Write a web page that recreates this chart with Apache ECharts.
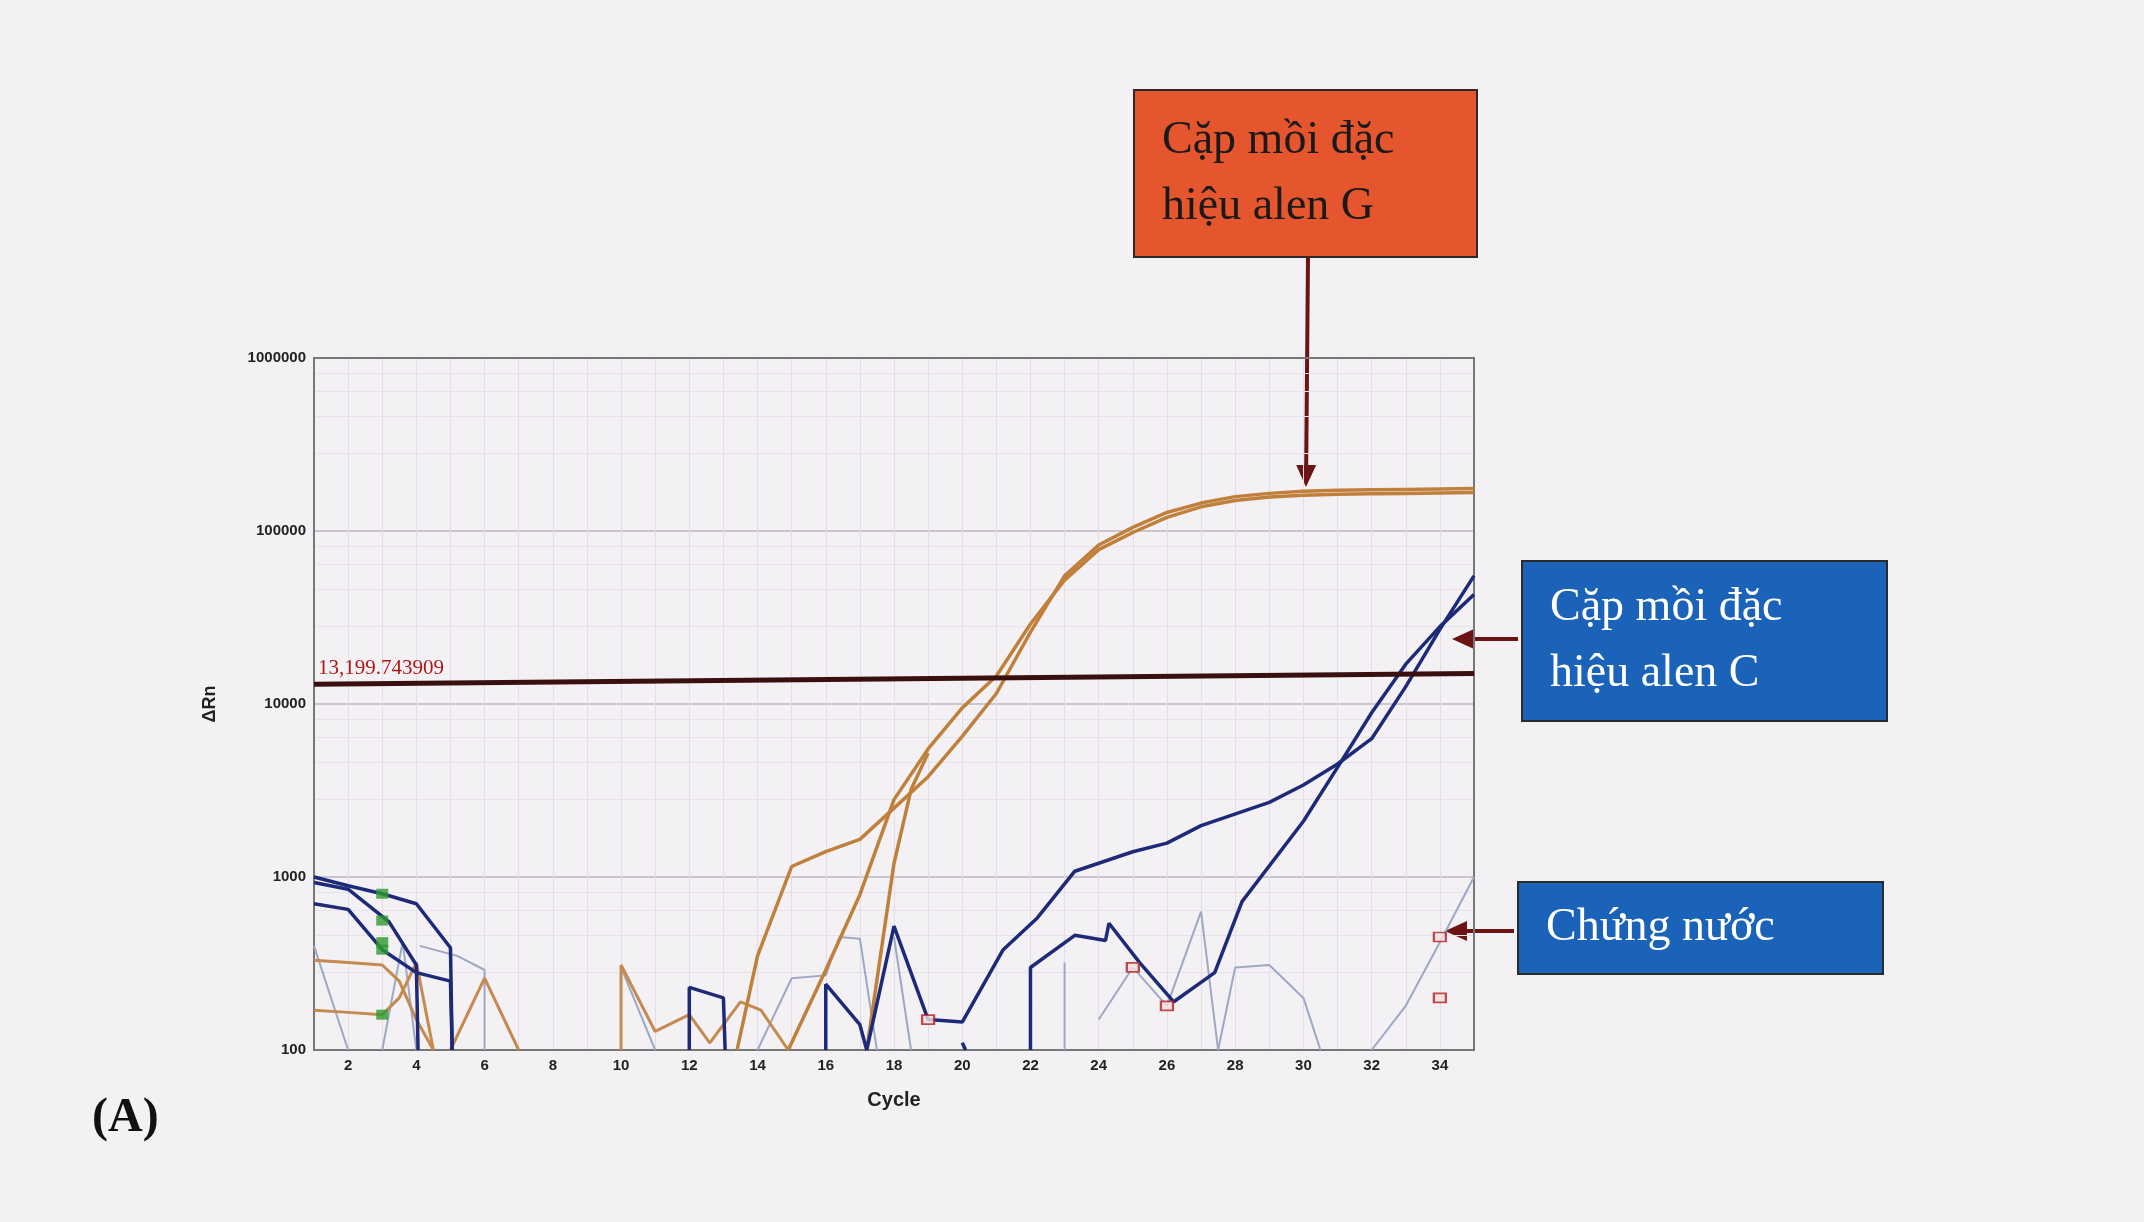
<!DOCTYPE html>
<html>
<head>
<meta charset="UTF-8">
<script src="https://cdn.jsdelivr.net/npm/echarts@6/dist/echarts.min.js"></script>
<style>
  body { margin: 0; background: #f3f1f4; }
  #chart { width: 2144px; height: 1222px; }
</style>
</head>
<body>
<div id="chart"></div>
<script>
// ---------- data ----------
const xTicks = [2, 4, 6, 8, 10, 12, 14, 16, 18, 20, 22, 24, 26, 28, 30, 32, 34];
const yTicks = [100, 1000, 10000, 100000, 1000000];
const thresholdLabel = '13,199.743909';
const threshold = [[1, 13000], [35, 15000]];

// allele G (orange)
const orangeA = [[13.4, 100], [14, 350], [15, 1150], [16, 1400], [17, 1650], [18, 2500], [19, 3800], [20, 6500],
  [21, 11500], [22, 26000], [23, 55000], [24, 83000], [25, 105000], [26, 128000], [27, 145000], [28, 158000],
  [29, 165000], [30, 170000], [31, 172000], [32, 173000], [33, 174000], [34, 175000], [35, 176000]];
const orangeB = [[14.9, 100], [16, 290], [17, 790], [18, 2800], [19, 5500], [20, 9500], [21, 14500], [22, 29000],
  [23, 52000], [24, 78000], [25, 98000], [26, 120000], [27, 138000], [28, 150000], [29, 157000], [30, 161000],
  [31, 163000], [32, 164000], [33, 165000], [34, 166000], [35, 167000]];
const orangeC = [[17.2, 100], [18, 1200], [18.5, 3200], [19, 5200]];
const orangeNoise1 = [[1, 330], [2, 320], [3, 310], [3.5, 250], [4, 150], [4.5, 100]];
const orangeNoise2 = [[1, 170], [2, 165], [3, 160], [3.5, 200], [4, 320], [4.5, 100]];
const orangeNoise3 = [[5, 100], [6, 260], [7, 100]];
const orangeNoise4 = [[10, 100], [10, 310], [11, 128], [12, 160], [12.6, 110], [13.5, 190], [14.1, 170], [14.9, 100]];

// allele C (navy)
const blueA = [[1, 1000], [2, 890], [3, 800], [4, 700], [5, 390], [5.05, 100]];
const blueB = [[1, 930], [2, 850], [3.2, 550], [4, 310], [4.05, 100]];
const blueC = [[1, 700], [2, 650], [3, 380], [4, 280], [5, 250], [5.05, 100]];
const blueD = [[12, 100], [12, 230], [13, 200], [13.05, 100]];
const blueE = [[16, 100], [16, 240], [17, 140], [17.2, 100], [18, 520], [19, 150], [20, 145], [21.2, 380],
  [22.2, 580], [23.3, 1080], [25, 1400], [26, 1570], [27, 1980], [29, 2700], [30, 3400], [31, 4500],
  [32, 6300], [33, 12600], [34, 27000], [35, 55000]];
const blueF = [[22, 100], [22, 300], [23.3, 460], [24.2, 430], [24.3, 540], [25.2, 320], [26.2, 190],
  [27.4, 280], [28.2, 720], [30, 2100], [31, 4300], [32, 8900], [33, 17000], [34, 28000], [35, 43000]];
const blueG = [[20, 110], [20.1, 100]];

// water controls (grey)
const greyLines = [
  [[1, 400], [2, 100]],
  [[3, 100], [3.6, 420], [4, 100]],
  [[4.1, 400], [5.2, 350], [6, 290], [6, 100]],
  [[10, 300], [11, 100]],
  [[14, 100], [15, 260], [16, 270], [16.4, 450], [17, 440], [17.5, 100]],
  [[18, 450], [18.5, 100]],
  [[23, 100], [23, 320], [23, 100]],
  [[24, 150], [25, 300], [26, 180], [27, 630], [27.5, 100]],
  [[27.5, 100], [28, 300], [29, 310], [30, 200], [30.5, 100]],
  [[32, 100], [33, 180], [34, 420], [35, 1000]]
];

const greenMarks = [[3, 800], [3, 560], [3, 420], [3, 380], [3, 160]];
const redMarks = [[19, 150], [25, 300], [26, 180], [34, 450], [34, 200]];

// ---------- chart ----------
const chart = echarts.init(document.getElementById('chart'));

function line(data, color, width) {
  return { type: 'line', data: data, symbol: 'none', smooth: false,
    lineStyle: { color: color, width: width }, z: 3 };
}

const series = [];
greyLines.forEach(d => series.push(line(d, '#9ea8c4', 2)));
[orangeNoise1, orangeNoise2, orangeNoise3, orangeNoise4].forEach(d => series.push(line(d, '#c48a50', 3)));
[orangeA, orangeB, orangeC].forEach(d => series.push(line(d, '#c0803c', 3.5)));
[blueA, blueB, blueC, blueD, blueE, blueF, blueG].forEach(d => series.push(line(d, '#1d2a78', 3.5)));
series.push({ type: 'line', data: threshold, symbol: 'none', lineStyle: { color: '#3a0f0f', width: 5 }, z: 4 });
series.push({ type: 'scatter', data: greenMarks, symbol: 'rect', symbolSize: [12, 10],
  itemStyle: { color: '#2e9a2e' }, z: 5 });
series.push({ type: 'scatter', data: redMarks, symbol: 'rect', symbolSize: [12, 9],
  itemStyle: { color: '#f4e0e0', borderColor: '#b02020', borderWidth: 2 }, z: 5 });

function arrow(x1, y1, x2, y2) {
  const a = Math.atan2(y2 - y1, x2 - x1), L = 22, W = 10;
  const bx = x2 - L * Math.cos(a), by = y2 - L * Math.sin(a);
  return [
    { type: 'line', shape: { x1: x1, y1: y1, x2: bx, y2: by }, style: { stroke: '#6a1414', lineWidth: 4 } },
    { type: 'polygon', shape: { points: [[x2, y2],
      [bx + W * Math.sin(a), by - W * Math.cos(a)], [bx - W * Math.sin(a), by + W * Math.cos(a)]] },
      style: { fill: '#6a1414' } }
  ];
}

function box(x, y, w, h, fill, color, text) {
  return { type: 'group', children: [
    { type: 'rect', shape: { x: x, y: y, width: w, height: h }, style: { fill: fill, stroke: '#2a2a2a', lineWidth: 2 } },
    { type: 'text', x: x + 28, y: y + h / 2, style: { text: text, fill: color, fontSize: 46,
      fontFamily: 'Liberation Serif', verticalAlign: 'middle', lineHeight: 66 } }
  ] };
}

chart.setOption({
  backgroundColor: '#f3f1f4',
  animation: false,
  grid: { left: 314, right: 670, top: 358, bottom: 172 },
  xAxis: {
    type: 'value', min: 1, max: 35, interval: 1,
    name: 'Cycle', nameLocation: 'middle', nameGap: 40,
    nameTextStyle: { fontSize: 20, fontWeight: 'bold', color: '#222', fontFamily: 'Liberation Sans' },
    axisLine: { lineStyle: { color: '#555', width: 2 } },
    axisTick: { show: false },
    axisLabel: { fontSize: 15, fontWeight: 'bold', color: '#222',
      formatter: v => xTicks.indexOf(v) >= 0 ? String(v) : '' },
    splitLine: { show: true, lineStyle: { color: '#e2dde6', width: 1 } }
  },
  yAxis: {
    type: 'log', logBase: 10, min: 100, max: 1000000,
    name: 'ΔRn', nameLocation: 'middle', nameGap: 95, nameRotate: 90,
    nameTextStyle: { fontSize: 18, fontWeight: 'bold', color: '#222' },
    axisLine: { show: true, lineStyle: { color: '#555', width: 2 } },
    axisTick: { show: false },
    axisLabel: { fontSize: 15, fontWeight: 'bold', color: '#222',
      formatter: v => yTicks.indexOf(Math.round(v)) >= 0 ? String(Math.round(v)) : '' },
    splitLine: { show: true, lineStyle: { color: '#c9c4cf', width: 2 } },
    minorTick: { show: false },
    minorSplitLine: { show: true, lineStyle: { color: '#e6e1ea', width: 1 } }
  },
  series: series,
  graphic: [
    { type: 'rect', shape: { x: 314, y: 358, width: 1160, height: 692 }, style: { fill: 'none', stroke: '#777', lineWidth: 2 }, z: 1, silent: true },
    { type: 'text', x: 318, y: 658, z: 10, style: { text: thresholdLabel, fill: '#b01818', fontSize: 21,
      fontFamily: 'Liberation Serif' } },
    box(1134, 90, 343, 167, '#e5552e', '#1a1a1a', 'Cặp mồi đặc\nhiệu alen G'),
    box(1522, 561, 365, 160, '#1b63b8', '#ffffff', 'Cặp mồi đặc\nhiệu alen C'),
    box(1518, 882, 365, 92, '#1b63b8', '#ffffff', 'Chứng nước'),
    ...arrow(1308, 257, 1306, 487),
    ...arrow(1518, 639, 1452, 639),
    ...arrow(1514, 931, 1445, 931),
    { type: 'text', x: 92, y: 1095, style: { text: '(A)', fontSize: 48, fontWeight: 'bold',
      fontFamily: 'Liberation Serif', fill: '#111' } }
  ]
});
</script>
</body>
</html>
